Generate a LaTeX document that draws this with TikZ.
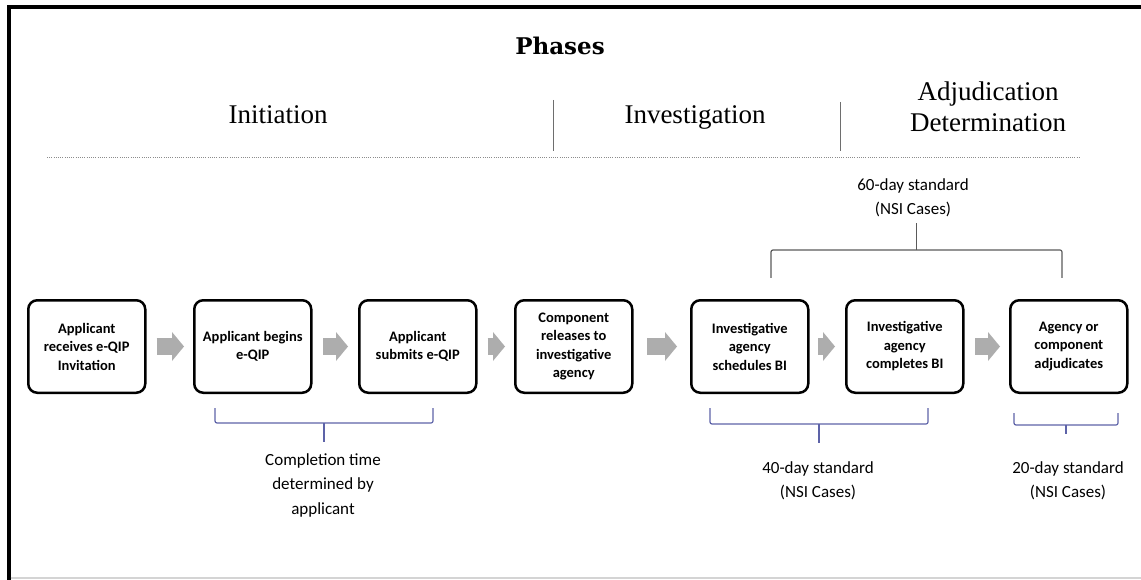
\documentclass[tikz,border=0pt]{standalone}
\usepackage{fontspec}
\setmainfont{Liberation Serif}
\setsansfont{Carlito}
\newfontfamily\headfont{DejaVu Serif}
\usepackage{tikz}
\usetikzlibrary{arrows.meta,positioning}
\definecolor{colArrow}    {HTML}{ADADAD}
\definecolor{colBraceBlue}{HTML}{5D63A8}
\definecolor{colBraceGray}{HTML}{5A5A5A}
\definecolor{colRule}     {HTML}{6E6E6E}
\definecolor{colDots}     {HTML}{8C8C8C}
\definecolor{colEdge}     {HTML}{D4D4D4}
\tikzset{
  stage/.style={
    draw=black, fill=white, rounded corners=9pt,
    minimum width=117pt, minimum height=92.5pt,
    align=center, inner sep=3pt,
    line width=2.5pt, font=\sffamily\bfseries\fontsize{14.5}{18.5}\selectfont
  },
  flowarr/.style={
    -{Triangle[length=12pt,width=29pt,line width=0pt]},
    line width=17pt, draw=colArrow,
    shorten <=10pt, shorten >=9pt
  },
  phase/.style   ={font=\fontsize{27}{31}\selectfont, inner sep=0pt},
  stdlabel/.style={font=\sffamily\fontsize{17}{24.5}\selectfont,
                   align=center, inner sep=0pt, anchor=north},
  lowbrace/.style={draw=colBraceBlue, line width=1.2pt, rounded corners=2pt},
  topbrace/.style={draw=colBraceGray, line width=1.2pt, rounded corners=2pt},
  divider/.style ={draw=colRule, line width=1pt}
}
% brace: style, left x, right x, bar y, end length, tick length
\newcommand{\spanbrace}[6]{%
  \draw[#1] (#2,{#4-(#5)}) -- (#2,#4) -- (#3,#4) -- (#3,{#4-(#5)});
  \draw[#1] ({(#2+#3)/2},#4) -- ({(#2+#3)/2},{#4+(#6)});
}

\begin{document}
\begin{tikzpicture}[x=1pt, y=-1pt]
    \useasboundingbox (0,0) rectangle (1141,580);
    \draw[line width=4pt] (8.5,580) -- (8.5,7) -- (1141,7);
    \draw[colEdge, line width=1.5pt] (10.5,578) -- (1141,578);

    \node[font=\headfont\bfseries\fontsize{23}{27}\selectfont, anchor=base] (phases) at (560,55) {Phases};
    \node[phase, anchor=base] (init) at (278,124) {Initiation};
    \node[phase, anchor=base] (invest) at (695,124) {Investigation};
    \node[phase, anchor=north, align=center] (adjud) at (988,81.5) {Adjudication\\Determination};
    \draw[divider] (553,100) -- (553,151);
    \draw[divider] (840,102) -- (840,151);
    \draw[colDots, line width=1pt, dash pattern=on 1pt off 1.2pt] (47,158) -- (1080,158);

    \node[stage] (recv) at (86.75,346.5) {Applicant\\receives e-QIP\\Invitation};
    \node[stage, right=46.5pt of recv] (begin) {Applicant begins\\e-QIP};
    \node[stage, right=45.5pt of begin] (submit) {Applicant\\submits e-QIP};
    \node[stage, right=36.5pt of submit] (release) {Component\\releases to\\investigative\\agency};
    \node[stage, right=56.5pt of release] (sched) {Investigative\\agency\\schedules BI};
    \node[stage, right=35.5pt of sched] (complete) {Investigative\\agency\\completes BI};
    \node[stage, right=44.5pt of complete] (adjudicate) {Agency or\\component\\adjudicates};

    \draw[flowarr] (recv) -- (begin);
    \draw[flowarr, shorten <=10.5pt, shorten >=10pt] (begin) -- (submit);
    \draw[flowarr] (submit) -- (release);
    \draw[flowarr, shorten <=13.5pt, shorten >=13pt] (release) -- (sched);
    \draw[flowarr, shorten <=8.5pt, shorten >=10pt] (sched) -- (complete);
    \draw[flowarr, shorten <=10.5pt] (complete) -- (adjudicate);

    \node[stdlabel] (std60) at (913,178) {60-day standard\\(NSI Cases)};
    \node[stdlabel] (compl) at (323,453) {Completion time\\determined by\\applicant};
    \node[stdlabel] (std40) at (818,461) {40-day standard\\(NSI Cases)};
    \node[stdlabel] (std20) at (1068,461) {20-day standard\\(NSI Cases)};

    \spanbrace{lowbrace}{215}{433}{423}{15}{19}
    \spanbrace{lowbrace}{710}{928}{424}{16}{19}
    \spanbrace{lowbrace}{1014}{1118}{425}{12}{9}
    \spanbrace{topbrace}{771}{1062}{250}{-28}{-27}
\end{tikzpicture}
\end{document}
